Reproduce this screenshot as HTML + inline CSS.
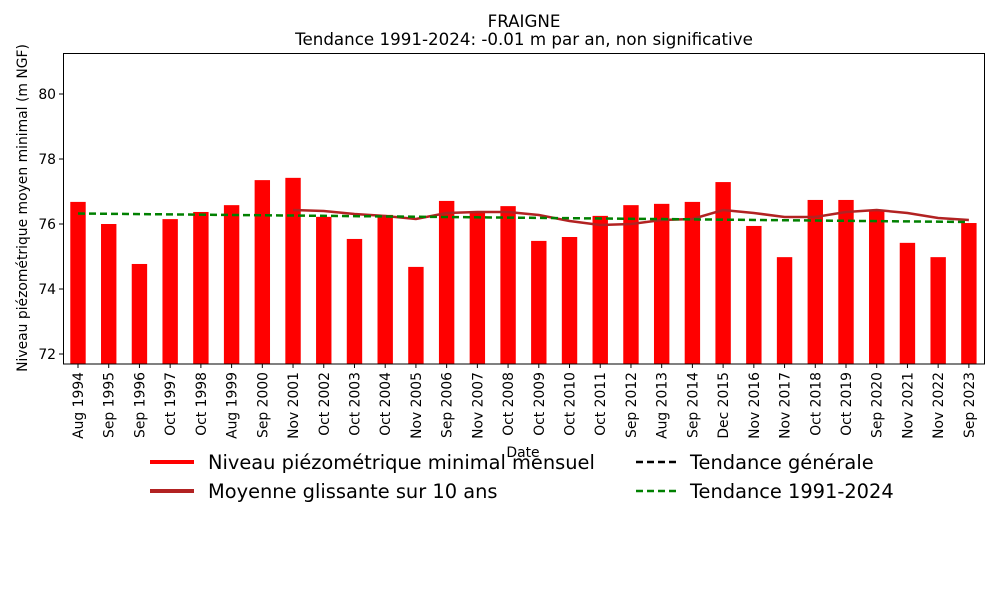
<!DOCTYPE html>
<html><head><meta charset="utf-8"><style>body{margin:0;background:#fff}svg{display:block;font-family:"DejaVu Sans","Liberation Sans",sans-serif}</style></head><body>
<svg width="1000" height="600" viewBox="0 0 1000 600">
<text x="524" y="27" font-size="16.7" text-anchor="middle">FRAIGNE</text>
<text x="524" y="45" font-size="16.7" text-anchor="middle">Tendance 1991-2024: -0.01 m par an, non significative</text>
<g id="bars" fill="#ff0000"></g>
<polyline id="ma" fill="none" stroke="#b22222" stroke-width="2.5"/>
<line x1="78" y1="213.5" x2="969" y2="222" stroke="#008000" stroke-width="2.5" stroke-dasharray="7,4"/>
<rect x="63.5" y="53.5" width="921" height="310.5" fill="none" stroke="#000" stroke-width="1"/>
<g id="yt" font-size="13.9"></g>
<g id="xt" font-size="13.9"></g>
<text x="523" y="457" font-size="13.9" text-anchor="middle">Date</text>
<text transform="translate(27,208) rotate(-90)" font-size="13.9" text-anchor="middle">Niveau piézométrique moyen minimal (m NGF)</text>
<g font-size="19.4">
<line x1="150" y1="462" x2="194" y2="462" stroke="#ff0000" stroke-width="4"/>
<text x="208" y="469">Niveau piézométrique minimal mensuel</text>
<line x1="150" y1="491" x2="194" y2="491" stroke="#b22222" stroke-width="4"/>
<text x="208" y="498">Moyenne glissante sur 10 ans</text>
<line x1="636" y1="462" x2="676" y2="462" stroke="#000" stroke-width="2.5" stroke-dasharray="7,4"/>
<text x="690" y="469">Tendance générale</text>
<line x1="636" y1="491" x2="676" y2="491" stroke="#008000" stroke-width="2.5" stroke-dasharray="7,4"/>
<text x="690" y="498">Tendance 1991-2024</text>
</g>
</svg>
<script>
var ns="http://www.w3.org/2000/svg";
function y(v){return 354-(v-72)*32.5;}
var vals=[76.68,76.0,74.77,76.15,76.37,76.58,77.35,77.42,76.22,75.54,76.28,74.68,76.71,76.34,76.55,75.48,75.6,76.25,76.58,76.62,76.68,77.29,75.94,74.98,76.74,76.74,76.43,75.42,74.98,76.03];
var labs=["Aug 1994","Sep 1995","Sep 1996","Oct 1997","Oct 1998","Aug 1999","Sep 2000","Nov 2001","Oct 2002","Oct 2003","Oct 2004","Nov 2005","Sep 2006","Nov 2007","Oct 2008","Oct 2009","Oct 2010","Oct 2011","Sep 2012","Aug 2013","Sep 2014","Dec 2015","Nov 2016","Nov 2017","Oct 2018","Oct 2019","Sep 2020","Nov 2021","Nov 2022","Sep 2023"];
var ma=[210,211,214,216,219,213,212,212,215,221,225,224,220,219,210,213,217,217,212,210,213,218,220];
var B=document.getElementById("bars"),X=document.getElementById("xt"),Y=document.getElementById("yt");
var pts=[];
for(var i=0;i<30;i++){var cx=78+i*30.72;
var r=document.createElementNS(ns,"rect");r.setAttribute("x",cx-7.7);r.setAttribute("y",y(vals[i]));r.setAttribute("width",15.4);r.setAttribute("height",364-y(vals[i]));B.appendChild(r);
var l=document.createElementNS(ns,"line");l.setAttribute("x1",cx);l.setAttribute("x2",cx);l.setAttribute("y1",364);l.setAttribute("y2",368);l.setAttribute("stroke","#000");X.appendChild(l);
var t=document.createElementNS(ns,"text");t.setAttribute("transform","translate("+(cx+5)+",372) rotate(-90)");t.setAttribute("text-anchor","end");t.textContent=labs[i];X.appendChild(t);
if(i>=7)pts.push(cx+","+ma[i-7]);}
document.getElementById("ma").setAttribute("points",pts.join(" "));
for(var v=72;v<=80;v+=2){var yy=y(v);
var l=document.createElementNS(ns,"line");l.setAttribute("x1",59);l.setAttribute("x2",63);l.setAttribute("y1",yy);l.setAttribute("y2",yy);l.setAttribute("stroke","#000");Y.appendChild(l);
var t=document.createElementNS(ns,"text");t.setAttribute("x",56);t.setAttribute("y",yy+5);t.setAttribute("text-anchor","end");t.textContent=v;Y.appendChild(t);}
</script>
</body></html>
